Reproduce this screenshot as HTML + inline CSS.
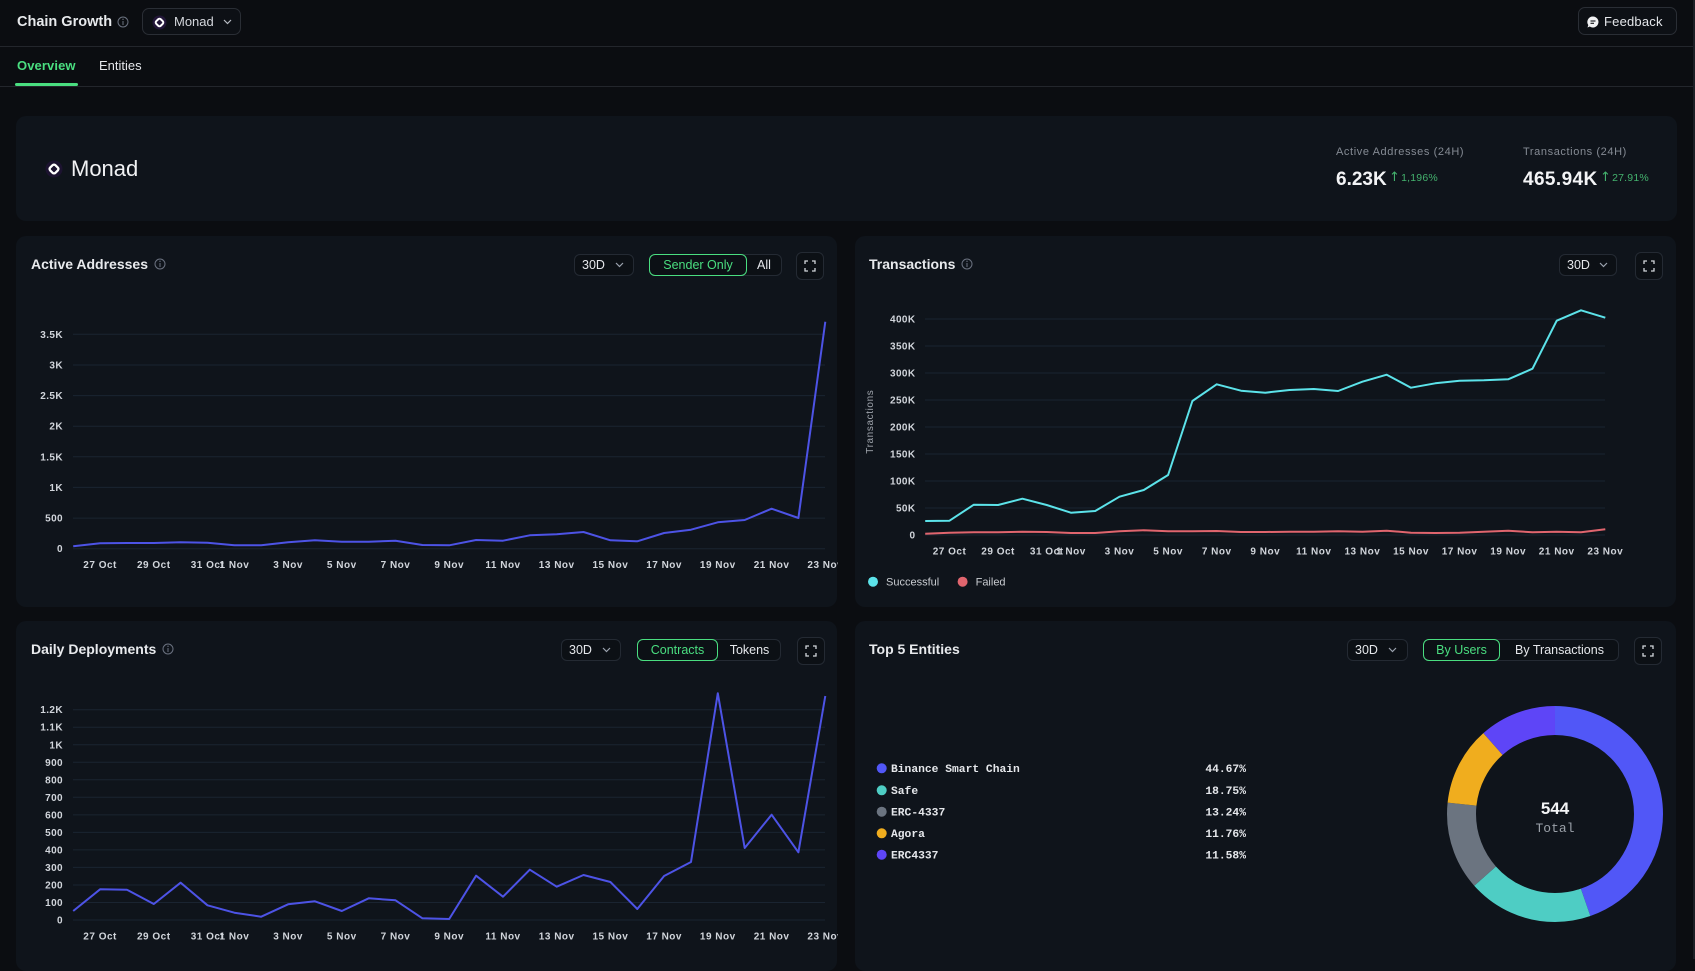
<!DOCTYPE html>
<html><head><meta charset="utf-8"><style>
*{box-sizing:border-box;margin:0;padding:0}
html,body{width:1695px;height:959px;overflow:hidden;background:#0b0d11;font-family:"Liberation Sans",sans-serif;color:#e6e8eb}
.abs{position:absolute}
.card{position:absolute;background:#0f141b;border-radius:10px}
.btn{position:absolute;border:1px solid #242a33;border-radius:6px;background:#0c1015;font-size:12.5px;color:#e5e7eb;display:flex;align-items:center}
.title{position:absolute;font-size:14px;font-weight:bold;color:#e8eaed;display:flex;align-items:center;white-space:nowrap}
.seg{position:absolute;top:-1px;bottom:-1px;display:flex;align-items:center;justify-content:center;font-size:12.5px;border-radius:6px}
.on{border:1px solid #4ade80;color:#4ade80}
.arr{font-size:13px;font-family:"DejaVu Sans",sans-serif;font-weight:normal;margin-right:1px}
</style></head><body>
<div class="abs" style="left:0;top:0;width:1695px;height:959px;">

<!-- header -->
<div class="abs" style="left:0;top:46px;width:1693px;height:1px;background:#23262c"></div>
<div class="abs" style="left:0;top:86px;width:1693px;height:1px;background:#23262c"></div>
<div class="abs" style="left:1693px;top:0;width:2px;height:959px;background:#1d2026"></div>
<div class="abs" style="left:17px;top:14px;font-size:14.5px;font-weight:bold;color:#e8eaed;white-space:nowrap">Chain Growth</div>
<svg class="abs" style="left:117px;top:16px" width="12" height="12"><circle cx="6" cy="6" r="5" fill="none" stroke="#6b7280" stroke-width="1"/><line x1="6" y1="5" x2="6" y2="9" stroke="#6b7280" stroke-width="1"/><circle cx="6" cy="3.3" r="0.7" fill="#6b7280"/></svg>
<div class="abs" style="left:142px;top:8px;width:99px;height:27px;border:1px solid #2a2e35;border-radius:7px;background:#0d1015"></div>
<svg class="abs" style="left:152px;top:15px" width="15" height="15"><circle cx="7.5" cy="7.5" r="7" fill="#221638"/><rect x="4.3" y="4.3" width="6.4" height="6.4" rx="1.8" transform="rotate(45 7.5 7.5)" fill="none" stroke="#fff" stroke-width="2"/></svg>
<div class="abs" style="left:174px;top:14px;font-size:13px;color:#d4d7dc">Monad</div>
<svg class="abs" style="left:223px;top:19px" width="9" height="6"><polyline points="1,1 4.5,4.5 8,1" fill="none" stroke="#b8bcc4" stroke-width="1.2"/></svg>

<div class="abs" style="left:1578px;top:7px;width:99px;height:28px;border:1px solid #2a2e35;border-radius:7px;background:#0d1015"></div>
<svg class="abs" style="left:1587px;top:16px" width="12" height="12"><path d="M6 0.5a5.5 5.5 0 1 1-3.2 10l-2.3 1 .8-2.4A5.5 5.5 0 0 1 6 .5z" fill="#f1f2f4"/><line x1="3.5" y1="5" x2="8.5" y2="5" stroke="#0d1015" stroke-width="1.1"/><line x1="3.5" y1="7.3" x2="7" y2="7.3" stroke="#0d1015" stroke-width="1.1"/></svg>
<div class="abs" style="left:1604px;top:14px;font-size:13px;color:#e5e7eb;letter-spacing:0.2px">Feedback</div>

<!-- tabs -->
<div class="abs" style="left:17px;top:58px;font-size:13px;font-weight:bold;color:#4ade80;letter-spacing:0.1px">Overview</div>
<div class="abs" style="left:15px;top:83px;width:63px;height:3px;background:#4ade80;border-radius:2px"></div>
<div class="abs" style="left:99px;top:58px;font-size:13px;color:#e5e7eb">Entities</div>

<!-- stat card -->
<div class="card" style="left:16px;top:116px;width:1661px;height:105px"></div>
<svg class="abs" style="left:45px;top:160px" width="18" height="18"><circle cx="9" cy="9" r="8.5" fill="#1c1330"/><rect x="5.3" y="5.3" width="7.4" height="7.4" rx="2" transform="rotate(45 9 9)" fill="none" stroke="#fff" stroke-width="2.3"/></svg>
<div class="abs" style="left:71px;top:156px;font-size:22px;color:#f1f2f4;font-weight:500">Monad</div>
<div class="abs" style="left:1336px;top:146px;font-size:11px;color:#858b94;letter-spacing:0.6px;white-space:nowrap">Active Addresses (24H)</div>
<div class="abs" style="left:1336px;top:169px;font-size:19px;font-weight:bold;color:#f3f4f6;white-space:nowrap">6.23K</div>
<div class="abs" style="left:1389px;top:170px;font-size:10.5px;color:#44b26e;white-space:nowrap;letter-spacing:0.2px"><span class="arr">↑</span>1,196%</div>
<div class="abs" style="left:1523px;top:146px;font-size:11px;color:#858b94;letter-spacing:0.6px;white-space:nowrap">Transactions (24H)</div>
<div class="abs" style="left:1523px;top:169px;font-size:19px;font-weight:bold;color:#f3f4f6;white-space:nowrap;letter-spacing:0.4px">465.94K</div>
<div class="abs" style="left:1600px;top:170px;font-size:10.5px;color:#44b26e;white-space:nowrap;letter-spacing:0.2px"><span class="arr">↑</span>27.91%</div>

<!-- panels -->
<div class="card" style="left:16px;top:236px;width:821px;height:371px"></div>
<div class="card" style="left:855px;top:236px;width:821px;height:371px"></div>
<div class="card" style="left:16px;top:621px;width:821px;height:350px"></div>
<div class="card" style="left:855px;top:621px;width:821px;height:350px"></div>

<!-- titles -->
<div class="title" style="left:31px;top:256px">Active Addresses<svg style="margin-left:6px" width="12" height="12"><circle cx="6" cy="6" r="5" fill="none" stroke="#6b7280"/><line x1="6" y1="5" x2="6" y2="9" stroke="#6b7280"/><circle cx="6" cy="3.3" r="0.7" fill="#6b7280"/></svg></div>
<div class="title" style="left:869px;top:256px">Transactions<svg style="margin-left:6px" width="12" height="12"><circle cx="6" cy="6" r="5" fill="none" stroke="#6b7280"/><line x1="6" y1="5" x2="6" y2="9" stroke="#6b7280"/><circle cx="6" cy="3.3" r="0.7" fill="#6b7280"/></svg></div>
<div class="title" style="left:31px;top:641px">Daily Deployments<svg style="margin-left:6px" width="12" height="12"><circle cx="6" cy="6" r="5" fill="none" stroke="#6b7280"/><line x1="6" y1="5" x2="6" y2="9" stroke="#6b7280"/><circle cx="6" cy="3.3" r="0.7" fill="#6b7280"/></svg></div>
<div class="title" style="left:869px;top:641px">Top 5 Entities</div>

<!-- controls AA -->
<div class="btn" style="left:574px;top:254px;width:60px;height:22px;padding-left:7px">30D<svg style="margin-left:10px" width="9" height="6"><polyline points="1,1 4.5,4.5 8,1" fill="none" stroke="#9ca3af" stroke-width="1.2"/></svg></div>
<div class="btn" style="left:649px;top:254px;width:133px;height:22px">
 <div class="seg on" style="left:-1px;width:98px">Sender Only</div>
 <div class="seg" style="left:97px;width:34px">All</div></div>
<div class="btn" style="left:796px;top:252px;width:28px;height:28px;justify-content:center"><svg width="12" height="12"><path d="M1 4V1h3M8 1h3v3M11 8v3H8M4 11H1V8" fill="none" stroke="#d1d5db" stroke-width="1.3"/></svg></div>

<!-- controls Tx -->
<div class="btn" style="left:1559px;top:254px;width:58px;height:22px;padding-left:7px">30D<svg style="margin-left:9px" width="9" height="6"><polyline points="1,1 4.5,4.5 8,1" fill="none" stroke="#9ca3af" stroke-width="1.2"/></svg></div>
<div class="btn" style="left:1635px;top:252px;width:28px;height:28px;justify-content:center"><svg width="12" height="12"><path d="M1 4V1h3M8 1h3v3M11 8v3H8M4 11H1V8" fill="none" stroke="#d1d5db" stroke-width="1.3"/></svg></div>

<!-- controls DD -->
<div class="btn" style="left:561px;top:639px;width:60px;height:22px;padding-left:7px">30D<svg style="margin-left:10px" width="9" height="6"><polyline points="1,1 4.5,4.5 8,1" fill="none" stroke="#9ca3af" stroke-width="1.2"/></svg></div>
<div class="btn" style="left:637px;top:639px;width:144px;height:22px">
 <div class="seg on" style="left:-1px;width:81px">Contracts</div>
 <div class="seg" style="left:80px;width:63px">Tokens</div></div>
<div class="btn" style="left:797px;top:637px;width:28px;height:28px;justify-content:center"><svg width="12" height="12"><path d="M1 4V1h3M8 1h3v3M11 8v3H8M4 11H1V8" fill="none" stroke="#d1d5db" stroke-width="1.3"/></svg></div>

<!-- controls Top5 -->
<div class="btn" style="left:1347px;top:639px;width:61px;height:22px;padding-left:7px">30D<svg style="margin-left:10px" width="9" height="6"><polyline points="1,1 4.5,4.5 8,1" fill="none" stroke="#9ca3af" stroke-width="1.2"/></svg></div>
<div class="btn" style="left:1423px;top:639px;width:196px;height:22px">
 <div class="seg on" style="left:-1px;width:77px">By Users</div>
 <div class="seg" style="left:76px;width:119px">By Transactions</div></div>
<div class="btn" style="left:1634px;top:637px;width:28px;height:28px;justify-content:center"><svg width="12" height="12"><path d="M1 4V1h3M8 1h3v3M11 8v3H8M4 11H1V8" fill="none" stroke="#d1d5db" stroke-width="1.3"/></svg></div>

<!-- charts -->
<svg class="abs" style="left:0;top:0" width="1695" height="959" font-family="Liberation Sans, sans-serif">
<defs>
<clipPath id="cA"><rect x="16" y="236" width="822" height="371"/></clipPath>
<clipPath id="cB"><rect x="855" y="236" width="821" height="371"/></clipPath>
<clipPath id="cC"><rect x="16" y="621" width="822" height="338"/></clipPath>
</defs>

<!-- Active Addresses -->
<g clip-path="url(#cA)">
<g stroke="#1a2431" stroke-width="1">
<line x1="73" x2="825" y1="548.7" y2="548.7"/><line x1="73" x2="825" y1="518.1" y2="518.1"/><line x1="73" x2="825" y1="487.4" y2="487.4"/><line x1="73" x2="825" y1="456.8" y2="456.8"/><line x1="73" x2="825" y1="426.2" y2="426.2"/><line x1="73" x2="825" y1="395.6" y2="395.6"/><line x1="73" x2="825" y1="365" y2="365"/><line x1="73" x2="825" y1="334.3" y2="334.3"/>
</g>
<g font-size="10" font-weight="bold" fill="#d1d5db" text-anchor="end" letter-spacing="0.4">
<text x="63" y="552.2">0</text><text x="63" y="521.6">500</text><text x="63" y="490.9">1K</text><text x="63" y="460.3">1.5K</text><text x="63" y="429.7">2K</text><text x="63" y="399.1">2.5K</text><text x="63" y="368.5">3K</text><text x="63" y="337.8">3.5K</text>
</g>
<g font-size="10" font-weight="bold" fill="#d1d5db" text-anchor="middle" letter-spacing="0.5">
<text x="100.1" y="568">27 Oct</text><text x="153.8" y="568">29 Oct</text><text x="207.5" y="568">31 Oct</text><text x="234.4" y="568">1 Nov</text><text x="288.1" y="568">3 Nov</text><text x="341.8" y="568">5 Nov</text><text x="395.5" y="568">7 Nov</text><text x="449.2" y="568">9 Nov</text><text x="503" y="568">11 Nov</text><text x="556.7" y="568">13 Nov</text><text x="610.4" y="568">15 Nov</text><text x="664.1" y="568">17 Nov</text><text x="717.8" y="568">19 Nov</text><text x="771.6" y="568">21 Nov</text><text x="825.3" y="568">23 Nov</text>
</g>
<polyline fill="none" stroke="#4d53e6" stroke-width="2" stroke-linejoin="round" points="73.2,546.3 100.1,543.3 126.9,543 153.8,543 180.6,542.3 207.5,542.7 234.4,545.3 261.2,545.3 288.1,542.3 314.9,540.3 341.8,541.7 368.7,541.7 395.5,540.7 422.4,545 449.2,545.3 476.1,540 503,540.7 529.8,535.3 556.7,534.3 583.5,532 610.4,540.3 637.3,541.3 664.1,533 691,529.7 717.8,522.3 744.7,520 771.6,508.7 798.4,518 825.3,321.7"/>
</g>

<!-- Transactions -->
<g clip-path="url(#cB)">
<g stroke="#1a2431" stroke-width="1">
<line x1="925" x2="1605" y1="535" y2="535"/><line x1="925" x2="1605" y1="508" y2="508"/><line x1="925" x2="1605" y1="481" y2="481"/><line x1="925" x2="1605" y1="454" y2="454"/><line x1="925" x2="1605" y1="427" y2="427"/><line x1="925" x2="1605" y1="400" y2="400"/><line x1="925" x2="1605" y1="373" y2="373"/><line x1="925" x2="1605" y1="346" y2="346"/><line x1="925" x2="1605" y1="319" y2="319"/>
</g>
<g font-size="10" font-weight="bold" fill="#d1d5db" text-anchor="end" letter-spacing="0.4">
<text x="915.5" y="538.5">0</text><text x="915.5" y="511.5">50K</text><text x="915.5" y="484.5">100K</text><text x="915.5" y="457.5">150K</text><text x="915.5" y="430.5">200K</text><text x="915.5" y="403.5">250K</text><text x="915.5" y="376.5">300K</text><text x="915.5" y="349.5">350K</text><text x="915.5" y="322.5">400K</text>
</g>
<text x="870.5" y="421.7" transform="rotate(-90 870.5 421.7)" font-size="10" fill="#a0a5ad" text-anchor="middle" dominant-baseline="middle" letter-spacing="0.6">Transactions</text>
<g font-size="10" font-weight="bold" fill="#d1d5db" text-anchor="middle" letter-spacing="0.5">
<text x="949.5" y="554.5">27 Oct</text><text x="998.1" y="554.5">29 Oct</text><text x="1046.7" y="554.5">31 Oct</text><text x="1070.9" y="554.5">1 Nov</text><text x="1119.5" y="554.5">3 Nov</text><text x="1168.1" y="554.5">5 Nov</text><text x="1216.7" y="554.5">7 Nov</text><text x="1265.3" y="554.5">9 Nov</text><text x="1313.8" y="554.5">11 Nov</text><text x="1362.4" y="554.5">13 Nov</text><text x="1411" y="554.5">15 Nov</text><text x="1459.6" y="554.5">17 Nov</text><text x="1508.2" y="554.5">19 Nov</text><text x="1556.7" y="554.5">21 Nov</text><text x="1605.3" y="554.5">23 Nov</text>
</g>
<polyline fill="none" stroke="#e0656e" stroke-width="2" stroke-linejoin="round" points="925.2,533.7 949.5,532.7 973.8,532.3 998.1,532.3 1022.4,531.7 1046.7,532 1070.9,533 1095.2,533 1119.5,531.3 1143.8,530.3 1168.1,531.3 1192.4,531.3 1216.7,531 1241,532 1265.3,532 1289.6,531.7 1313.8,531.7 1338.1,531.3 1362.4,531.7 1386.7,530.7 1411,532.7 1435.3,533 1459.6,532.7 1483.9,531.7 1508.2,530.7 1532.5,532.3 1556.7,531.7 1581,532.3 1605.3,529.3"/>
<polyline fill="none" stroke="#5ce3ea" stroke-width="2" stroke-linejoin="round" points="925.2,521 949.5,520.7 973.8,504.7 998.1,505 1022.4,498.7 1046.7,505 1070.9,512.7 1095.2,511 1119.5,496.7 1143.8,490 1168.1,475 1192.4,401 1216.7,384.3 1241,390.7 1265.3,392.7 1289.6,390 1313.8,389 1338.1,391 1362.4,381.7 1386.7,374.7 1411,387.7 1435.3,383.3 1459.6,380.7 1483.9,380.3 1508.2,379.3 1532.5,368.7 1556.7,320.7 1581,310.3 1605.3,317.7"/>
<circle cx="873" cy="581.7" r="5" fill="#5ce3ea"/>
<text x="886" y="585.5" font-size="11" fill="#c9ccd1">Successful</text>
<circle cx="962.6" cy="581.7" r="5" fill="#e0656e"/>
<text x="975.6" y="585.5" font-size="11" fill="#c9ccd1">Failed</text>
</g>

<!-- Daily Deployments -->
<g clip-path="url(#cC)">
<g stroke="#1a2431" stroke-width="1">
<line x1="73" x2="825" y1="920" y2="920"/><line x1="73" x2="825" y1="902.5" y2="902.5"/><line x1="73" x2="825" y1="885" y2="885"/><line x1="73" x2="825" y1="867.4" y2="867.4"/><line x1="73" x2="825" y1="849.9" y2="849.9"/><line x1="73" x2="825" y1="832.4" y2="832.4"/><line x1="73" x2="825" y1="814.9" y2="814.9"/><line x1="73" x2="825" y1="797.3" y2="797.3"/><line x1="73" x2="825" y1="779.8" y2="779.8"/><line x1="73" x2="825" y1="762.3" y2="762.3"/><line x1="73" x2="825" y1="744.8" y2="744.8"/><line x1="73" x2="825" y1="727.2" y2="727.2"/><line x1="73" x2="825" y1="709.7" y2="709.7"/>
</g>
<g font-size="10" font-weight="bold" fill="#d1d5db" text-anchor="end" letter-spacing="0.4">
<text x="63" y="923.5">0</text><text x="63" y="906">100</text><text x="63" y="888.5">200</text><text x="63" y="870.9">300</text><text x="63" y="853.4">400</text><text x="63" y="835.9">500</text><text x="63" y="818.4">600</text><text x="63" y="800.8">700</text><text x="63" y="783.3">800</text><text x="63" y="765.8">900</text><text x="63" y="748.3">1K</text><text x="63" y="730.7">1.1K</text><text x="63" y="713.2">1.2K</text>
</g>
<g font-size="10" font-weight="bold" fill="#d1d5db" text-anchor="middle" letter-spacing="0.5">
<text x="100.1" y="939.5">27 Oct</text><text x="153.8" y="939.5">29 Oct</text><text x="207.5" y="939.5">31 Oct</text><text x="234.4" y="939.5">1 Nov</text><text x="288.1" y="939.5">3 Nov</text><text x="341.8" y="939.5">5 Nov</text><text x="395.5" y="939.5">7 Nov</text><text x="449.2" y="939.5">9 Nov</text><text x="503" y="939.5">11 Nov</text><text x="556.7" y="939.5">13 Nov</text><text x="610.4" y="939.5">15 Nov</text><text x="664.1" y="939.5">17 Nov</text><text x="717.8" y="939.5">19 Nov</text><text x="771.6" y="939.5">21 Nov</text><text x="825.3" y="939.5">23 Nov</text>
</g>
<polyline fill="none" stroke="#4d53e6" stroke-width="2" stroke-linejoin="round" points="73.2,911 100.1,889.3 126.9,889.7 153.8,904 180.6,882.7 207.5,905.3 234.4,912.7 261.2,916.7 288.1,904.3 314.9,901.3 341.8,911 368.7,898.3 395.5,900.3 422.4,918.3 449.2,919 476.1,875.7 503,896.7 529.8,869.7 556.7,886.7 583.5,875 610.4,882 637.3,909 664.1,876 691,862 717.8,693.3 744.7,848 771.6,814.7 798.4,852.3 825.3,696"/>
</g>

<!-- Top 5 legend -->
<g font-family="Liberation Mono, monospace" font-size="11.3" font-weight="bold" fill="#e5e7eb">
<circle cx="881.7" cy="768.3" r="5" fill="#5157f7"/><text x="891" y="772.2">Binance Smart Chain</text><text x="1246" y="772.2" text-anchor="end">44.67%</text>
<circle cx="881.7" cy="790.3" r="5" fill="#4ecdc4"/><text x="891" y="794.2">Safe</text><text x="1246" y="794.2" text-anchor="end">18.75%</text>
<circle cx="881.7" cy="811.7" r="5" fill="#6b7480"/><text x="891" y="815.6">ERC-4337</text><text x="1246" y="815.6" text-anchor="end">13.24%</text>
<circle cx="881.7" cy="833.3" r="5" fill="#f0ad1e"/><text x="891" y="837.2">Agora</text><text x="1246" y="837.2" text-anchor="end">11.76%</text>
<circle cx="881.7" cy="854.7" r="5" fill="#5e45f7"/><text x="891" y="858.6">ERC4337</text><text x="1246" y="858.6" text-anchor="end">11.58%</text>
</g>

<!-- donut -->
<g transform="rotate(-90 1555 814)" fill="none" stroke-width="29">
<circle cx="1555" cy="814" r="93.5" stroke="#5157f7" stroke-dasharray="262.43 587.48" stroke-dashoffset="0"/>
<circle cx="1555" cy="814" r="93.5" stroke="#4ecdc4" stroke-dasharray="110.15 587.48" stroke-dashoffset="-262.43"/>
<circle cx="1555" cy="814" r="93.5" stroke="#6b7480" stroke-dasharray="77.78 587.48" stroke-dashoffset="-372.58"/>
<circle cx="1555" cy="814" r="93.5" stroke="#f0ad1e" stroke-dasharray="69.09 587.48" stroke-dashoffset="-450.36"/>
<circle cx="1555" cy="814" r="93.5" stroke="#5e45f7" stroke-dasharray="68.03 587.48" stroke-dashoffset="-519.45"/>
</g>
<text x="1555" y="814" font-size="17" font-weight="bold" fill="#f3f4f6" text-anchor="middle">544</text>
<text x="1555" y="832" font-family="Liberation Mono, monospace" font-size="13" fill="#9aa0a8" text-anchor="middle">Total</text>
</svg>
</div>
</body></html>
